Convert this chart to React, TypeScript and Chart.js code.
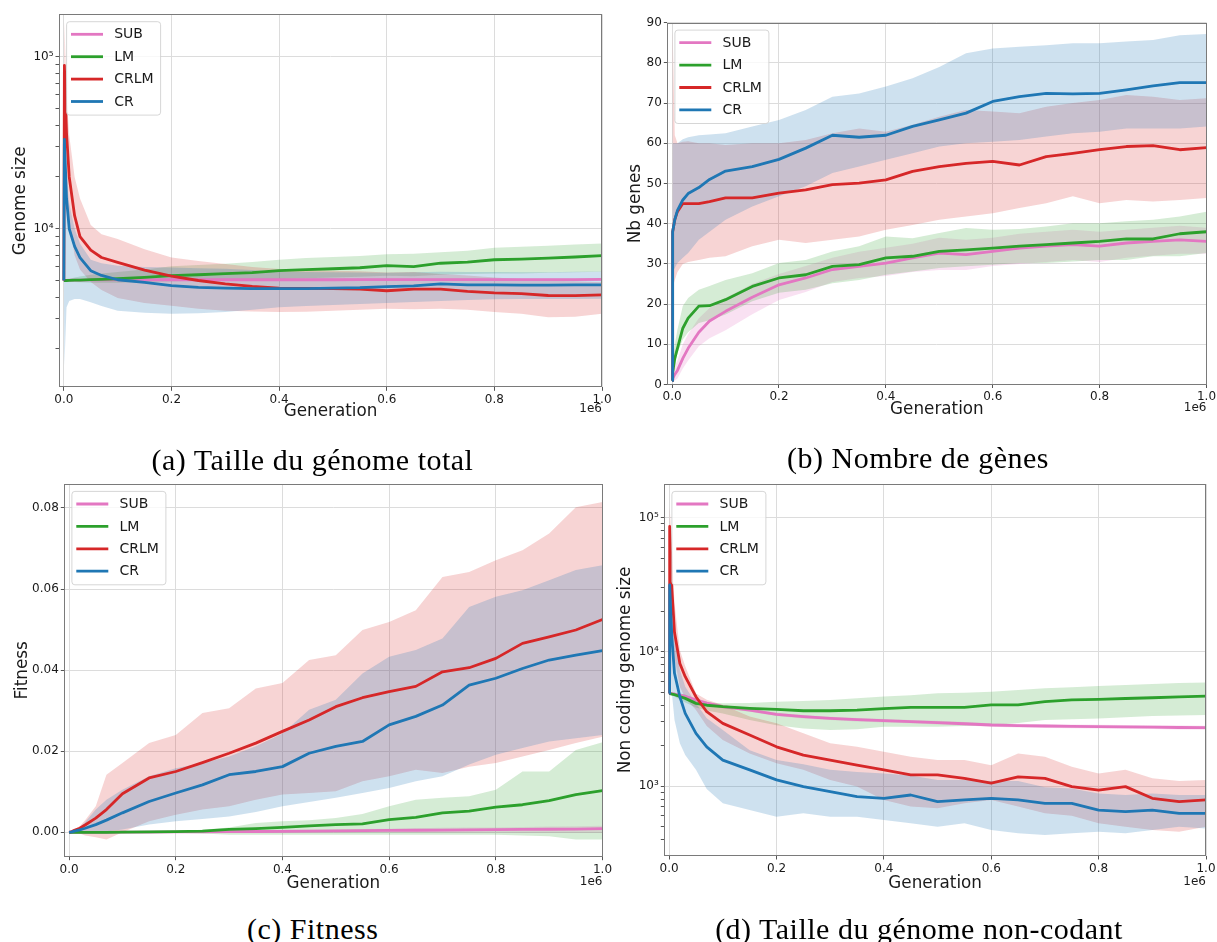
import React, { useEffect, useRef } from 'react';
import { Chart, registerables } from 'chart.js';

Chart.register(...registerables);

// ---------- shared ----------
const generations = [0, 1000, 5000, 10000, 20000, 30000, 50000, 70000, 100000, 150000, 200000, 250000, 300000, 350000, 400000, 450000, 500000, 550000, 600000, 650000, 700000, 750000, 800000, 850000, 900000, 950000, 1000000];
const xTickValues = [0, 200000, 400000, 600000, 800000, 1000000];
const seriesNames = ['SUB', 'LM', 'CRLM', 'CR'];
const lineColors = ['#e377c2', '#2ca02c', '#d62728', '#1f77b4'];
const bandColors = ['rgba(227,119,194,0.22)', 'rgba(44,160,44,0.2)', 'rgba(214,39,40,0.2)', 'rgba(31,119,180,0.22)'];

// ---------- (a) total genome size ----------
const genomeYTicks = [10000, 100000];
const genomeYMinorTicks = [2000, 3000, 4000, 5000, 6000, 7000, 8000, 9000, 20000, 30000, 40000, 50000, 60000, 70000, 80000, 90000];
const sizeSubMean = [5000, 5000, 5010, 5020, 5030, 5030, 5040, 5040, 5040, 5040, 5050, 5050, 5050, 5050, 5050, 5050, 5050, 5060, 5060, 5060, 5060, 5060, 5060, 5060, 5060, 5060, 5070];
const sizeSubHigh = [5000, 5000, 5030, 5050, 5060, 5070, 5080, 5090, 5090, 5100, 5110, 5110, 5110, 5110, 5120, 5120, 5120, 5130, 5130, 5130, 5130, 5140, 5140, 5140, 5140, 5140, 5150];
const sizeSubLow = [5000, 5000, 4990, 4990, 5000, 4990, 5000, 4990, 4990, 4980, 4990, 4990, 4990, 4990, 4980, 4980, 4980, 4990, 4990, 4990, 4990, 4980, 4980, 4980, 4980, 4980, 4990];
const sizeLmMean = [5000, 5000, 5000, 5010, 5020, 5030, 5060, 5080, 5120, 5220, 5330, 5400, 5480, 5560, 5700, 5780, 5850, 5930, 6100, 6020, 6300, 6400, 6600, 6650, 6750, 6850, 6970];
const sizeLmHigh = [5000, 5010, 5050, 5100, 5200, 5280, 5400, 5500, 5600, 5800, 6050, 6150, 6250, 6400, 6600, 6750, 6850, 6950, 7100, 7150, 7300, 7450, 7750, 7850, 7950, 8100, 8200];
const sizeLmLow = [5000, 4990, 4960, 4930, 4900, 4880, 4850, 4850, 4850, 4900, 4950, 4980, 5000, 5050, 5100, 5150, 5200, 5250, 5330, 5300, 5400, 5450, 5500, 5500, 5550, 5580, 5620];
const sizeCrlmMean = [5000, 89000, 36000, 20000, 11900, 9000, 7500, 6800, 6370, 5750, 5300, 5000, 4780, 4620, 4520, 4500, 4480, 4450, 4360, 4450, 4450, 4320, 4240, 4200, 4090, 4080, 4120];
const sizeCrlmHigh = [5000, 160000, 60000, 35000, 20000, 15000, 10500, 9300, 8700, 7600, 6800, 6500, 6230, 6000, 5830, 5750, 5700, 5650, 5570, 5600, 5450, 5350, 5210, 5100, 4990, 4950, 4880];
const sizeCrlmLow = [5000, 40000, 18000, 11000, 7000, 5800, 4900, 4400, 3950, 3700, 3570, 3420, 3340, 3300, 3280, 3290, 3330, 3380, 3420, 3400, 3420, 3380, 3280, 3200, 3060, 3080, 3200];
const sizeCrMean = [5000, 33000, 15000, 10000, 7900, 6800, 5700, 5350, 5050, 4870, 4670, 4560, 4510, 4480, 4480, 4490, 4510, 4540, 4610, 4650, 4780, 4720, 4720, 4700, 4700, 4720, 4720];
const sizeCrHigh = [5000, 34000, 20000, 14000, 10000, 8200, 6600, 6300, 6100, 6000, 5960, 5900, 5850, 5750, 5600, 5600, 5580, 5560, 5550, 5580, 5620, 5600, 5600, 5580, 5580, 5620, 5640];
const sizeCrLow = [5000, 1600, 3500, 3800, 3900, 3900, 3740, 3550, 3340, 3250, 3200, 3220, 3280, 3380, 3490, 3550, 3600, 3650, 3700, 3750, 3800, 3850, 3890, 3900, 3900, 3900, 3910];

// ---------- (b) number of genes ----------
const genesYTicks = [0, 10, 20, 30, 40, 50, 60, 70, 80, 90];
const genesSubMean = [1, 1.5, 2.5, 3.5, 6.5, 9, 13, 15.8, 18.2, 21.7, 24.8, 26.5, 28.6, 29.4, 30.2, 31.5, 32.7, 32.3, 33.1, 33.9, 34.4, 34.8, 34.4, 35.2, 35.6, 36, 35.6];
const genesSubHigh = [1, 2.5, 4.5, 6, 10, 12.5, 16.5, 19, 21.5, 25, 27.5, 29.5, 31.5, 33, 34, 35, 36.5, 36, 36.5, 37.5, 38, 38.5, 38, 38.5, 39, 39.5, 39];
const genesSubLow = [1, 0.5, 1, 1.5, 4, 6, 9.5, 11.5, 13.5, 17.5, 21, 23, 25.5, 26.5, 27, 28, 28.5, 28.5, 29.5, 30, 30.5, 31, 30.5, 31.5, 32, 32.5, 32.5];
const genesLmMean = [1, 3, 6.5, 9, 14, 16.5, 19.5, 19.6, 21.1, 24.4, 26.5, 27.3, 29.4, 29.8, 31.5, 31.9, 33.1, 33.5, 33.9, 34.4, 34.8, 35.2, 35.6, 36.2, 36.2, 37.5, 38];
const genesLmHigh = [1, 5, 10, 13.7, 19.5, 21.5, 23.6, 24.5, 26, 27.7, 30.2, 31, 33.1, 34.4, 36.8, 36.4, 37.7, 38.9, 38.5, 38.7, 39.3, 40.1, 40.1, 40.6, 41, 41.8, 43];
const genesLmLow = [1, 1.5, 4, 7.9, 11.2, 13, 15.3, 16, 17.4, 20.7, 22.8, 23.6, 25.2, 26, 27.3, 28.1, 29, 29.4, 29.8, 30.2, 30.2, 30.6, 31, 31, 31.9, 31.9, 32.7];
const genesCrlmMean = [1, 38, 41, 43, 45, 45, 45, 45.5, 46.4, 46.4, 47.6, 48.4, 49.7, 50.1, 50.9, 53, 54.2, 55, 55.5, 54.6, 56.7, 57.5, 58.4, 59.2, 59.4, 58.4, 58.9];
const genesCrlmHigh = [1, 88, 62, 60, 60.4, 60.5, 60, 60, 59.6, 60, 60, 60.8, 62.5, 63.7, 62.9, 64.6, 66.6, 68.3, 67.9, 67.5, 69.1, 70, 70.8, 72, 71.6, 70.8, 71.2];
const genesCrlmLow = [1, 24, 26, 28, 30, 30.5, 31, 31.5, 31.9, 34.4, 36, 35.2, 36, 36.8, 38.5, 39.7, 41, 41.8, 42.6, 43.9, 45.1, 46.8, 45.1, 45.9, 45.5, 45.9, 46.4];
const genesCrMean = [1, 38, 41, 43.3, 45.9, 47.5, 49, 51, 53.1, 54.2, 56, 58.8, 62, 61.5, 62, 64.2, 65.8, 67.5, 70.4, 71.6, 72.4, 72.3, 72.4, 73.3, 74.3, 75.1, 75.1];
const genesCrHigh = [1, 60, 60, 60, 61, 61.5, 62, 62.2, 62.5, 64.2, 65.8, 68.3, 71.6, 72.4, 74.1, 76.2, 79, 82.4, 83.6, 84, 84.4, 84.9, 84.9, 85.3, 85.7, 86.9, 87.2];
const genesCrLow = [1, 28, 29, 30.2, 31.5, 32.7, 36, 38, 41, 44.3, 46.8, 49.3, 52.6, 54.2, 55.9, 57.5, 59.2, 60, 60.4, 60.8, 61.7, 62.5, 62.9, 63.7, 63.7, 63.7, 64.2];

// ---------- (c) fitness ----------
const fitnessYTicks = [0, 0.02, 0.04, 0.06, 0.08];
const fitSubMean = [0, 0, 0, 0, 0, 0, 0, 0, 0.00002, 0.00005, 0.0001, 0.00013, 0.00017, 0.0002, 0.00025, 0.0003, 0.00035, 0.0004, 0.00045, 0.0005, 0.00055, 0.0006, 0.00065, 0.0007, 0.00075, 0.0008, 0.0009];
const fitSubHigh = [0, 0, 0, 0, 0, 0, 0, 0.0001, 0.0001, 0.0002, 0.0003, 0.0003, 0.0004, 0.0005, 0.0006, 0.0006, 0.0007, 0.0008, 0.0009, 0.001, 0.0011, 0.0012, 0.0012, 0.0013, 0.0014, 0.0015, 0.0016];
const fitSubLow = [0, 0, 0, 0, 0, 0, 0, 0, 0, -0.0001, -0.0001, -0.0001, -0.0001, -0.0001, -0.0001, -0.0001, -0.0001, -0.0001, -0.0001, -0.0001, -0.0001, -0.0001, -0.0001, -0.0002, -0.0002, -0.0002, -0.0002];
const fitLmMean = [0, 0, 0, 0, 0, 0, 0, 0, 0.00005, 0.0001, 0.00015, 0.0003, 0.0007, 0.0009, 0.0012, 0.0016, 0.0019, 0.0021, 0.0031, 0.0037, 0.0048, 0.0052, 0.0062, 0.0068, 0.0078, 0.0093, 0.0103];
const fitLmHigh = [0, 0, 0, 0, 0, 0, 0, 0, 0.0001, 0.0002, 0.0003, 0.0006, 0.0012, 0.0023, 0.0027, 0.003, 0.0035, 0.0045, 0.0064, 0.008, 0.0085, 0.0089, 0.0105, 0.015, 0.015, 0.0203, 0.0222];
const fitLmLow = [0, 0, 0, 0, 0, 0, 0, 0, 0, 0, -0.0001, -0.0003, -0.0006, -0.0006, -0.0006, -0.0006, -0.0006, -0.0006, -0.0006, -0.0006, -0.0006, -0.0006, -0.0006, -0.0008, -0.001, -0.0018, -0.0018];
const fitCrlmMean = [0, 0, 0.0002, 0.0005, 0.001, 0.0018, 0.0035, 0.0056, 0.0095, 0.0134, 0.015, 0.0172, 0.0195, 0.022, 0.0249, 0.0277, 0.031, 0.0332, 0.0347, 0.036, 0.0396, 0.0406, 0.0429, 0.0466, 0.0482, 0.0499, 0.0525];
const fitCrlmHigh = [0, 0, 0.0003, 0.0008, 0.0015, 0.003, 0.0064, 0.0142, 0.0171, 0.022, 0.024, 0.0294, 0.0306, 0.0355, 0.0368, 0.0425, 0.0437, 0.0499, 0.0519, 0.0548, 0.063, 0.0642, 0.0671, 0.0696, 0.0737, 0.0802, 0.0815];
const fitCrlmLow = [0, 0, 0, 0, -0.0003, -0.0008, -0.0012, -0.0018, 0, 0.0027, 0.0043, 0.0056, 0.0064, 0.008, 0.0093, 0.0097, 0.0101, 0.0126, 0.0138, 0.0154, 0.0146, 0.0162, 0.0171, 0.0187, 0.0203, 0.022, 0.0236];
const fitCrMean = [0, 0, 0.0001, 0.0003, 0.0006, 0.001, 0.0019, 0.003, 0.0048, 0.0076, 0.0097, 0.0117, 0.0142, 0.015, 0.0162, 0.0195, 0.0212, 0.0224, 0.0265, 0.0286, 0.0314, 0.0363, 0.038, 0.0404, 0.0425, 0.0437, 0.0448];
const fitCrHigh = [0, 0, 0.0002, 0.0006, 0.0012, 0.0025, 0.0056, 0.008, 0.0105, 0.0138, 0.0158, 0.0171, 0.0187, 0.0212, 0.0244, 0.0302, 0.0327, 0.0392, 0.0433, 0.045, 0.0478, 0.0556, 0.0581, 0.0597, 0.0622, 0.0647, 0.0659];
const fitCrLow = [0, 0, 0, 0, 0, 0, 0, 0.0002, 0.0007, 0.0019, 0.0027, 0.0033, 0.0039, 0.005, 0.0064, 0.0075, 0.0085, 0.0097, 0.0109, 0.0126, 0.0138, 0.0167, 0.0191, 0.0208, 0.0224, 0.0232, 0.024];

// ---------- (d) non coding genome size ----------
const ncYTicks = [1000, 10000, 100000];
const ncYMinorTicks = [400, 500, 600, 700, 800, 900, 2000, 3000, 4000, 5000, 6000, 7000, 8000, 9000, 20000, 30000, 40000, 50000, 60000, 70000, 80000, 90000];
const ncSubMean = [4900, 4900, 4880, 4850, 4750, 4650, 4380, 4150, 3900, 3680, 3420, 3290, 3190, 3120, 3070, 3020, 2970, 2910, 2850, 2820, 2800, 2780, 2770, 2760, 2750, 2730, 2720];
const ncSubHigh = [4950, 4950, 4950, 4930, 4850, 4760, 4500, 4270, 4010, 3790, 3520, 3390, 3280, 3210, 3160, 3110, 3060, 3000, 2940, 2910, 2890, 2870, 2860, 2850, 2840, 2820, 2810];
const ncSubLow = [4850, 4850, 4810, 4770, 4650, 4540, 4260, 4030, 3790, 3570, 3320, 3190, 3100, 3030, 2980, 2930, 2880, 2820, 2760, 2730, 2710, 2690, 2680, 2670, 2660, 2640, 2630];
const ncLmMean = [4900, 4900, 4850, 4800, 4650, 4500, 4130, 4000, 3900, 3790, 3720, 3640, 3640, 3680, 3770, 3860, 3860, 3860, 4020, 4020, 4250, 4380, 4420, 4490, 4550, 4620, 4680];
const ncLmHigh = [4900, 4950, 4950, 4950, 4900, 4800, 4380, 4200, 4130, 4150, 4250, 4300, 4380, 4500, 4640, 4750, 4910, 4950, 5050, 5200, 5350, 5450, 5570, 5650, 5770, 5850, 5910];
const ncLmLow = [4900, 4850, 4750, 4650, 4400, 4200, 3850, 3650, 3470, 3100, 2840, 2680, 2610, 2650, 2770, 2770, 2770, 2800, 2840, 2950, 3100, 3150, 3190, 3250, 3320, 3350, 3380];
const ncCrlmMean = [4900, 86000, 30000, 14000, 8200, 6530, 4630, 3580, 2930, 2400, 1960, 1700, 1560, 1430, 1320, 1210, 1210, 1140, 1050, 1170, 1140, 990, 930, 990, 810, 765, 787];
const ncCrlmHigh = [4900, 120000, 60000, 23000, 10300, 7800, 4900, 4400, 4020, 3290, 2930, 2470, 2080, 1960, 1800, 1650, 1560, 1560, 1430, 1750, 1650, 1390, 1240, 1320, 1140, 1090, 1110];
const ncCrlmLow = [4900, 40000, 15000, 9000, 5490, 4500, 3680, 2800, 2200, 1750, 1480, 1320, 1110, 990, 787, 702, 682, 743, 787, 702, 626, 600, 527, 498, 470, 457, 498];
const ncCrMean = [4900, 31500, 13000, 6920, 4630, 3480, 2470, 1960, 1560, 1320, 1110, 990, 908, 832, 810, 857, 765, 787, 810, 787, 743, 743, 662, 644, 662, 626, 626];
const ncCrHigh = [4900, 33000, 18000, 14500, 7330, 5500, 4130, 3200, 2610, 1850, 1560, 1450, 1320, 1270, 1240, 1200, 1110, 1110, 1090, 1090, 980, 960, 880, 857, 880, 857, 857];
const ncCrLow = [4900, 20000, 5000, 3100, 2080, 1700, 1320, 950, 743, 662, 590, 626, 590, 590, 558, 527, 498, 527, 470, 444, 431, 444, 457, 444, 470, 498, 483];

// ---------- styles ----------
const TEXT = '#1a1a1a';
const GRID = '#dcdcdc';
const FRAME = '#7a7a7a';
const TICK = '#555555';
const TICK_FONT = 12;
const AXIS_TITLE_FONT = 16.8;
const LEGEND_FONT = 14;
const SUPERSCRIPTS: any = { '0': '⁰', '1': '¹', '2': '²', '3': '³', '4': '⁴', '5': '⁵', '6': '⁶', '7': '⁷', '8': '⁸', '9': '⁹' };
const powerLabel = (v: number) => '10' + String(Math.round(Math.log10(v))).split('').map((c) => SUPERSCRIPTS[c]).join('');

Chart.defaults.font.family = '"DejaVu Sans", sans-serif';
Chart.defaults.color = TEXT;

const panels: any[] = [
  {
    key: 'a',
    canvas: { left: 0, top: 0, width: 625, height: 440 },
    area: { left: 59, top: 14.3, right: 602, bottom: 387.3 },
    yType: 'logarithmic', yMin: 1197, yMax: 176400,
    yTicks: genomeYTicks, yMinor: genomeYMinorTicks, yFormat: powerLabel,
    yLabel: 'Genome size', yTitleX: 20.2, xTitleY: 412, offsetY: 409,
    series: [[sizeSubMean, sizeSubLow, sizeSubHigh], [sizeLmMean, sizeLmLow, sizeLmHigh], [sizeCrlmMean, sizeCrlmLow, sizeCrlmHigh], [sizeCrMean, sizeCrLow, sizeCrHigh]],
    caption: '(a) Taille du génome total', captionX: 312.5, captionY: 460,
  },
  {
    key: 'b',
    canvas: { left: 605, top: 0, width: 612, height: 440 },
    area: { left: 667.3, top: 22.7, right: 1206.5, bottom: 384.5 },
    yType: 'linear', yMin: 0, yMax: 90,
    yTicks: genesYTicks, yMinor: [], yFormat: (v: number) => String(v),
    yLabel: 'Nb genes', yTitleX: 636, xTitleY: 410, offsetY: 408.3,
    series: [[genesSubMean, genesSubLow, genesSubHigh], [genesLmMean, genesLmLow, genesLmHigh], [genesCrlmMean, genesCrlmLow, genesCrlmHigh], [genesCrMean, genesCrLow, genesCrHigh]],
    caption: '(b) Nombre de gènes', captionX: 918, captionY: 458,
  },
  {
    key: 'c',
    canvas: { left: 0, top: 468, width: 625, height: 440 },
    area: { left: 64.3, top: 484, right: 602.5, bottom: 856.7 },
    yType: 'linear', yMin: -0.00602, yMax: 0.08592,
    yTicks: fitnessYTicks, yMinor: [], yFormat: (v: number) => v.toFixed(2),
    yLabel: 'Fitness', yTitleX: 22.2, xTitleY: 883.3, offsetY: 881.7,
    series: [[fitSubMean, fitSubLow, fitSubHigh], [fitLmMean, fitLmLow, fitLmHigh], [fitCrlmMean, fitCrlmLow, fitCrlmHigh], [fitCrMean, fitCrLow, fitCrHigh]],
    caption: '(c) Fitness', captionX: 312.7, captionY: 929,
  },
  {
    key: 'd',
    canvas: { left: 605, top: 468, width: 612, height: 440 },
    area: { left: 664.3, top: 484, right: 1206, bottom: 856 },
    yType: 'logarithmic', yMin: 300.8, yMax: 178300,
    yTicks: ncYTicks, yMinor: ncYMinorTicks, yFormat: powerLabel,
    yLabel: 'Non coding genome size', yTitleX: 625.6, xTitleY: 883.3, offsetY: 881.7,
    series: [[ncSubMean, ncSubLow, ncSubHigh], [ncLmMean, ncLmLow, ncLmHigh], [ncCrlmMean, ncCrlmLow, ncCrlmHigh], [ncCrMean, ncCrLow, ncCrHigh]],
    caption: '(d) Taille du génome non-codant', captionX: 919, captionY: 929,
  },
];

const toPoints = (ys: number[]) => generations.map((g, i) => ({ x: g, y: ys[i] }));

const decorPlugin = {
  id: 'decor',
  afterDraw(chart: any, _args: any, opts: any) {
    const { ctx, chartArea: a } = chart;
    ctx.save();
    // frame (all four spines)
    const l = Math.round(a.left) + 0.5, t = Math.round(a.top) + 0.5;
    const r = Math.round(a.right) - 0.5, b = Math.round(a.bottom) - 0.5;
    ctx.strokeStyle = FRAME;
    ctx.lineWidth = 1;
    ctx.strokeRect(l, t, r - l, b - t);

    // offset text
    ctx.fillStyle = TEXT;
    ctx.font = `${TICK_FONT}px "DejaVu Sans"`;
    ctx.textAlign = 'right';
    ctx.textBaseline = 'middle';
    ctx.fillText('1e6', a.right, opts.offsetY - chart.canvas.offsetTop);

    // legend
    const bx = a.left + 7.6, by = a.top + 7.4, bw = 94, bh = 93.4, rad = 3;
    ctx.beginPath();
    ctx.moveTo(bx + rad, by);
    ctx.lineTo(bx + bw - rad, by);
    ctx.quadraticCurveTo(bx + bw, by, bx + bw, by + rad);
    ctx.lineTo(bx + bw, by + bh - rad);
    ctx.quadraticCurveTo(bx + bw, by + bh, bx + bw - rad, by + bh);
    ctx.lineTo(bx + rad, by + bh);
    ctx.quadraticCurveTo(bx, by + bh, bx, by + bh - rad);
    ctx.lineTo(bx, by + rad);
    ctx.quadraticCurveTo(bx, by, bx + rad, by);
    ctx.closePath();
    ctx.fillStyle = 'rgba(255,255,255,0.8)';
    ctx.fill();
    ctx.strokeStyle = 'rgba(204,204,204,0.8)';
    ctx.stroke();
    ctx.font = `${LEGEND_FONT}px "DejaVu Sans"`;
    ctx.textAlign = 'left';
    seriesNames.forEach((name, i) => {
      const y = by + 12.6 + i * 22.4;
      ctx.strokeStyle = lineColors[i];
      ctx.lineWidth = 2.8;
      ctx.beginPath();
      ctx.moveTo(bx + 4.4, y);
      ctx.lineTo(bx + 36.4, y);
      ctx.stroke();
      ctx.fillStyle = TEXT;
      ctx.fillText(name, bx + 47.6, y + 0.5);
    });
    ctx.restore();
  },
};

function PanelChart({ p }: { p: any }) {
  const ref = useRef<HTMLCanvasElement | null>(null);
  const c = p.canvas;
  useEffect(() => {
    const a = p.area;
    const X_H = 40;
    const lh = AXIS_TITLE_FONT * 1.2;
    const padTop = a.top - c.top;
    const padRight = c.left + c.width - a.right;
    const padBottom = c.top + c.height - a.bottom - X_H;
    const yW = a.left - c.left;
    const xTitlePad = Math.max(0, a.bottom + X_H - lh / 2 - p.xTitleY);
    const yTitlePad = Math.max(0, p.yTitleX - c.left - lh / 2);
    const majorSet = new Set<number>(p.yTicks);
    const allY = [...p.yTicks, ...p.yMinor].filter((v: number) => v >= p.yMin && v <= p.yMax).sort((x: number, y: number) => x - y);

    const datasets: any[] = [];
    p.series.forEach((s: number[][], i: number) => {
      datasets.push({
        label: seriesNames[i] + ' high', data: toPoints(s[2]), borderWidth: 0, borderColor: 'rgba(0,0,0,0)',
        pointRadius: 0, fill: '+1', backgroundColor: bandColors[i], order: 20 - i,
      });
      datasets.push({
        label: seriesNames[i] + ' low', data: toPoints(s[1]), borderWidth: 0, borderColor: 'rgba(0,0,0,0)',
        pointRadius: 0, fill: false, order: 20 - i,
      });
    });
    p.series.forEach((s: number[][], i: number) => {
      datasets.push({
        label: seriesNames[i], data: toPoints(s[0]), borderColor: lineColors[i], borderWidth: 2.8,
        pointRadius: 0, fill: false, order: 4 - i, borderJoinStyle: 'round',
      });
    });

    const chart = new Chart(ref.current as HTMLCanvasElement, {
      type: 'line',
      data: { datasets },
      plugins: [decorPlugin],
      options: {
        responsive: false,
        animation: false,
        events: [],
        layout: { padding: { left: 0, top: padTop, right: padRight, bottom: padBottom } },
        plugins: {
          legend: { display: false },
          tooltip: { enabled: false },
          decor: { offsetY: p.offsetY },
        } as any,
        scales: {
          x: {
            type: 'linear', min: -9000, max: 1000000,
            afterBuildTicks: (s: any) => { s.ticks = xTickValues.map((v) => ({ value: v })); },
            afterFit: (s: any) => { s.height = X_H; s.paddingLeft = 0; s.paddingRight = 0; },
            ticks: { autoSkip: false, maxRotation: 0, minRotation: 0, padding: 2, font: { size: TICK_FONT }, color: TEXT, callback: (v: any) => (Number(v) / 1e6).toFixed(1) },
            grid: { color: GRID, lineWidth: 1, tickLength: 3.5, tickColor: TICK },
            border: { display: false },
            title: { display: true, text: 'Generation', color: TEXT, font: { size: AXIS_TITLE_FONT }, padding: { top: 0, bottom: xTitlePad } },
          },
          y: {
            type: p.yType, min: p.yMin, max: p.yMax,
            afterBuildTicks: (s: any) => { s.ticks = allY.map((v: number) => ({ value: v })); },
            afterFit: (s: any) => { s.width = yW; s.paddingTop = 0; s.paddingBottom = 0; },
            ticks: { autoSkip: false, padding: 2, font: { size: TICK_FONT }, color: TEXT, callback: (v: any) => (majorSet.has(Number(v)) ? p.yFormat(Number(v)) : '') },
            grid: {
              color: (ctx: any) => (ctx.tick && majorSet.has(ctx.tick.value) ? GRID : 'rgba(0,0,0,0)'),
              lineWidth: 1, tickLength: 3.5, tickColor: TICK,
            },
            border: { display: false },
            title: { display: true, text: p.yLabel, color: TEXT, font: { size: AXIS_TITLE_FONT }, padding: { top: yTitlePad, bottom: 0 } },
          },
        } as any,
      },
    } as any);
    return () => chart.destroy();
  }, []);
  return (
    <canvas
      ref={ref}
      width={c.width}
      height={c.height}
      style={{ position: 'absolute', left: c.left, top: c.top, width: c.width, height: c.height }}
    />
  );
}

export default function App() {
  return (
    <div style={{ position: 'absolute', left: 0, top: 0, width: 1217, height: 942, background: '#ffffff', overflow: 'hidden' }}>
      {panels.map((p) => (
        <PanelChart key={p.key} p={p} />
      ))}
      {panels.map((p) => (
        <div
          key={'cap-' + p.key}
          style={{
            position: 'absolute', left: p.captionX, top: p.captionY - 17, transform: 'translateX(-50%)',
            whiteSpace: 'nowrap', fontFamily: '"Liberation Serif", serif', fontSize: 30, lineHeight: '34px',
            letterSpacing: '0.5px', color: '#000',
          }}
        >
          {p.caption}
        </div>
      ))}
    </div>
  );
}
